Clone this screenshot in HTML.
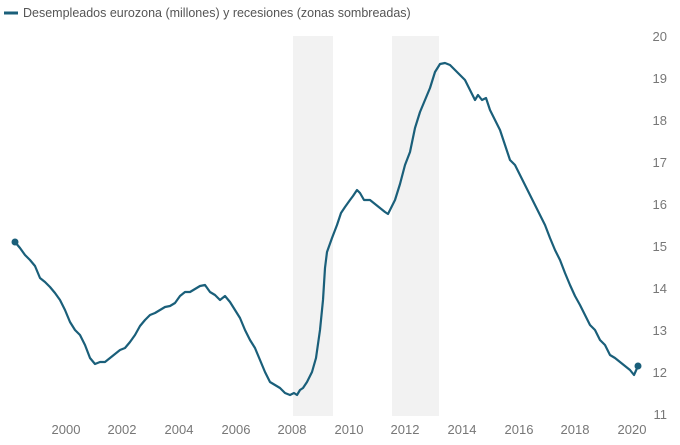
<!DOCTYPE html>
<html><head><meta charset="utf-8"><style>
body{margin:0;background:#fff;}
svg{display:block;font-family:"Liberation Sans",sans-serif;}
</style></head><body>
<svg width="680" height="445" viewBox="0 0 680 445">
<rect x="293" y="36" width="40" height="380" fill="#f2f2f2"/>
<rect x="392" y="36" width="47" height="380" fill="#f2f2f2"/>
<line x1="4" y1="13" x2="18" y2="13" stroke="#1a5f7a" stroke-width="3"/>
<text x="23" y="17" font-size="12.5" fill="#555">Desempleados eurozona (millones) y recesiones (zonas sombreadas)</text>
<g font-size="13" fill="#777" text-anchor="end">
<text x="667" y="41">20</text><text x="667" y="83">19</text><text x="667" y="125">18</text>
<text x="667" y="167">17</text><text x="667" y="209">16</text><text x="667" y="251">15</text>
<text x="667" y="293">14</text><text x="667" y="335">13</text><text x="667" y="377">12</text>
<text x="667" y="419">11</text>
</g>
<g font-size="13" fill="#777" text-anchor="middle">
<text x="66" y="434">2000</text><text x="122" y="434">2002</text><text x="179" y="434">2004</text>
<text x="236" y="434">2006</text><text x="292" y="434">2008</text><text x="349" y="434">2010</text>
<text x="405" y="434">2012</text><text x="462" y="434">2014</text><text x="519" y="434">2016</text>
<text x="575" y="434">2018</text><text x="632" y="434">2020</text>
</g>
<polyline fill="none" stroke="#1a5f7a" stroke-width="2.2" stroke-linejoin="round" points="15,242 20,248 25,255 30,260 35,266 40,278 45,282 50,287 55,293 60,300 65,310 70,322 75,330 80,335 85,345 90,358 95,364 100,362 105,362 110,358 115,354 120,350 125,348 130,342 135,335 140,326 145,320 150,315 155,313 160,310 165,307 170,306 175,303 180,296 185,292 190,292 195,289 200,286 205,285 210,292 215,295 220,300 225,296 230,302 235,310 240,318 245,330 250,340 255,348 260,360 265,372 270,382 275,385 280,388 285,393 290,395 294,393 297,395 300,390 303,388 307,382 312,372 316,358 320,330 323,300 325,268 327,252 332,238 337,225 341,213 345,207 350,200 353,196 357,190 360,193 364,200 370,200 375,204 380,208 385,212 388,214 391,208 395,200 400,184 405,165 410,152 415,128 420,112 425,100 430,88 435,72 440,64 445,63 450,65 455,70 460,75 465,80 470,90 475,100 478,95 482,100 486,98 490,110 495,120 500,130 505,145 510,160 515,165 520,175 525,185 530,195 535,205 540,215 545,225 550,238 555,250 560,260 565,273 570,285 575,296 580,305 585,315 590,325 595,330 600,340 605,345 610,355 615,358 620,362 625,366 630,370 634,375 638,366"/>
<circle cx="15" cy="242" r="3.5" fill="#1a5f7a"/>
<circle cx="638" cy="366" r="3.5" fill="#1a5f7a"/>
</svg>
</body></html>
